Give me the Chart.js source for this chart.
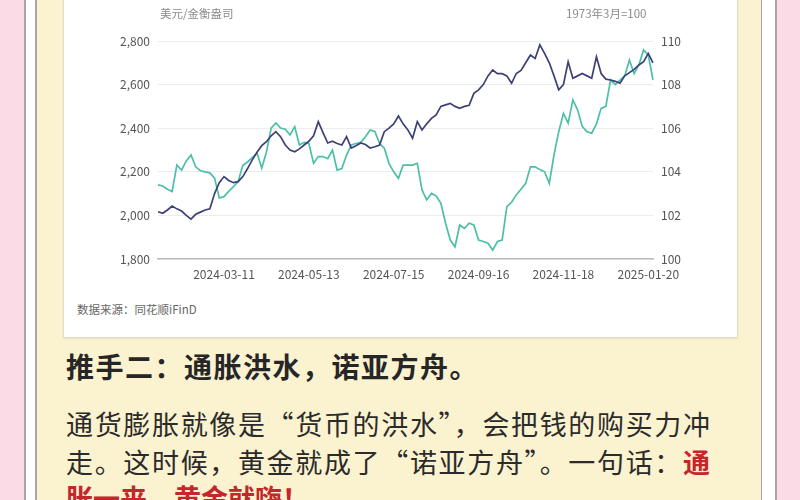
<!DOCTYPE html>
<html lang="zh-CN">
<head>
<meta charset="utf-8">
<script src="https://cdn.jsdelivr.net/npm/chart.js@4.4.1/dist/chart.umd.min.js"></script>
<style>
  html, body { margin: 0; padding: 0; }
  body {
    width: 800px; height: 500px; overflow: hidden; position: relative;
    background: #fadbe6;
    font-family: "Noto Sans CJK SC", "Noto Sans", sans-serif;
  }
  .abs { position: absolute; }
  .vline { top: 0; height: 500px; width: 2px; background: #aaa3ab; }
  .strip { top: 0; height: 500px; background: #fff; }
  #panel { left: 37px; top: 0; width: 724px; height: 500px; background: #fbf2d0; }
  #card {
    left: 63px; top: -4px; width: 673px; height: 340px; background: #fff;
    border: 1px solid #e4dcc4; box-shadow: 0 1px 2px rgba(0,0,0,0.08);
  }
  #chart { left: 62px; top: 0; }
  .note { font-size: 11.5px; color: #8a8a8a; top: 5px; }
  #source { left: 77px; top: 301px; font-size: 11.5px; color: #666; }
  #title { left: 66px; top: 346px; font-size: 28px; font-weight: bold; color: #262626; letter-spacing: 1.5px; }
  .para {
    left: 66px; width: 644px; font-size: 27px; color: #2b2b2b;
    text-align: justify; text-align-last: justify; white-space: nowrap;
  }
  .red { color: #c4262c; font-weight: bold; }
</style>
</head>
<body>
<div class="abs strip" style="left:26px;width:10px"></div>
<div class="abs vline" style="left:24px"></div>
<div class="abs vline" style="left:35px"></div>
<div class="abs strip" style="left:762px;width:13px"></div>
<div class="abs vline" style="left:760px"></div>
<div class="abs vline" style="left:775px"></div>
<div class="abs" id="panel"></div>
<div class="abs" id="card"></div>

<canvas class="abs" id="chart" width="676" height="290"></canvas>
<div class="abs note" style="left:160px">美元/金衡盎司</div>
<div class="abs note" style="left:566px">1973年3月=100</div>
<div class="abs" id="source">数据来源：同花顺iFinD</div>

<div class="abs" id="title">推手二：通胀洪水，诺亚方舟。</div>
<div class="abs para" style="top:404px">通货膨胀就像是“货币的洪水”，会把钱的购买力冲</div>
<div class="abs para" style="top:442px">走。这时候，黄金就成了“诺亚方舟”。一句话：<span class="red">通</span></div>
<div class="abs para red" style="top:478px;text-align-last:left">胀一来，黄金就嗨！</div>

<script>
// one point every half week, starting Monday 2024-01-22
const startDate = Date.UTC(2024, 0, 22);
const tickDates = ['2024-03-11', '2024-05-13', '2024-07-15', '2024-09-16', '2024-11-18', '2025-01-20'];

// gold price, USD per troy ounce (left axis)
const goldPrice = [
    2017, 2010, 2025, 2043, 2030, 2020, 2000, 1983, 2005, 2015,
    2025, 2030, 2100, 2150, 2178, 2160, 2150, 2155, 2178, 2215,
    2255, 2290, 2320, 2338, 2365, 2384, 2361, 2323, 2300, 2292,
    2305, 2323, 2340, 2365, 2430, 2380, 2332, 2340, 2330, 2323,
    2361, 2309, 2320, 2332, 2325, 2309, 2315, 2323, 2384, 2400,
    2420, 2456, 2420, 2392, 2354, 2430, 2392, 2420, 2445, 2461,
    2500, 2507, 2514, 2500, 2491, 2500, 2505, 2560, 2576, 2600,
    2640, 2667, 2650, 2650, 2640, 2606, 2651, 2665, 2700, 2736,
    2720, 2782, 2743, 2700, 2640, 2576, 2600, 2705, 2629, 2640,
    2651, 2640, 2629, 2728, 2651, 2625, 2621, 2615, 2606, 2640,
    2655, 2670, 2690, 2705, 2743, 2700
];

// US dollar index, March 1973 = 100 (right axis)
const dollarIndex = [
    103.40, 103.35, 103.20, 103.10, 104.31, 104.08, 104.50, 104.77, 104.23, 104.05,
    104.00, 103.95, 103.71, 102.80, 102.86, 103.10, 103.32, 103.55, 104.30, 104.45,
    104.65, 104.86, 104.17, 104.90, 106.00, 106.24, 106.01, 105.95, 105.69, 106.07,
    105.23, 105.35, 105.30, 104.39, 104.70, 104.70, 104.60, 105.00, 104.08, 104.15,
    104.77, 105.23, 105.30, 105.35, 105.61, 105.92, 105.85, 105.31, 105.08, 104.39,
    104.00, 103.70, 104.31, 104.31, 104.31, 104.39, 103.17, 102.71, 103.01, 102.90,
    102.55, 101.64, 100.87, 100.56, 101.56, 101.40, 101.64, 101.56, 100.87, 100.80,
    100.72, 100.41, 100.80, 100.87, 102.40, 102.60, 102.94, 103.20, 103.47, 104.23,
    104.23, 104.10, 104.00, 103.47, 104.77, 105.84, 106.68, 106.23, 107.30, 106.84,
    106.07, 105.84, 105.77, 106.20, 106.91, 107.00, 108.21, 108.00, 108.21, 108.40,
    109.13, 108.50, 108.90, 109.59, 109.36, 108.21
];

const labels = goldPrice.map((v, i) => {
    const d = new Date(startDate + Math.round(i * 3.5) * 86400000);
    return d.toISOString().split('T')[0];
});

const tickFont = { family: '"Noto Sans CJK SC", "Liberation Sans", sans-serif', size: 12 };

new Chart(document.getElementById('chart'), {
    type: 'line',
    data: {
        labels: labels,
        datasets: [
            {
                label: '黄金',
                data: goldPrice,
                yAxisID: 'y',
                borderColor: '#3e4176',
                borderWidth: 1.7,
                pointRadius: 0,
                tension: 0,
                order: 1
            },
            {
                label: '美元指数',
                data: dollarIndex,
                yAxisID: 'y1',
                borderColor: '#4cbfa7',
                borderWidth: 1.7,
                pointRadius: 0,
                tension: 0,
                order: 2
            }
        ]
    },
    options: {
        responsive: false,
        animation: false,
        layout: { padding: { top: 41, left: 0, right: 0, bottom: 0 } },
        plugins: { legend: { display: false }, tooltip: { enabled: false } },
        scales: {
            x: {
                grid: { display: false, drawTicks: false },
                border: { display: true, color: '#bdbdbd', width: 1.5 },
                ticks: {
                    autoSkip: false,
                    maxRotation: 0,
                    padding: 8,
                    color: '#555',
                    font: tickFont,
                    callback: function (value) {
                        const lab = this.getLabelForValue(value);
                        return tickDates.includes(lab) ? lab : '';
                    }
                },
                afterFit: scale => { scale.height = 31; }
            },
            y: {
                position: 'left',
                min: 1800,
                max: 2800,
                grid: { color: '#ececec', drawTicks: false },
                border: { display: false },
                ticks: {
                    stepSize: 200,
                    padding: 8,
                    color: '#555',
                    font: tickFont,
                    callback: v => v.toLocaleString('en-US')
                },
                afterFit: scale => { scale.width = 96; }
            },
            y1: {
                position: 'right',
                min: 100,
                max: 110,
                grid: { drawOnChartArea: false, drawTicks: false },
                border: { display: false },
                ticks: { stepSize: 2, padding: 8, color: '#555', font: tickFont },
                afterFit: scale => { scale.width = 85; }
            }
        }
    }
});
</script>
</body>
</html>
